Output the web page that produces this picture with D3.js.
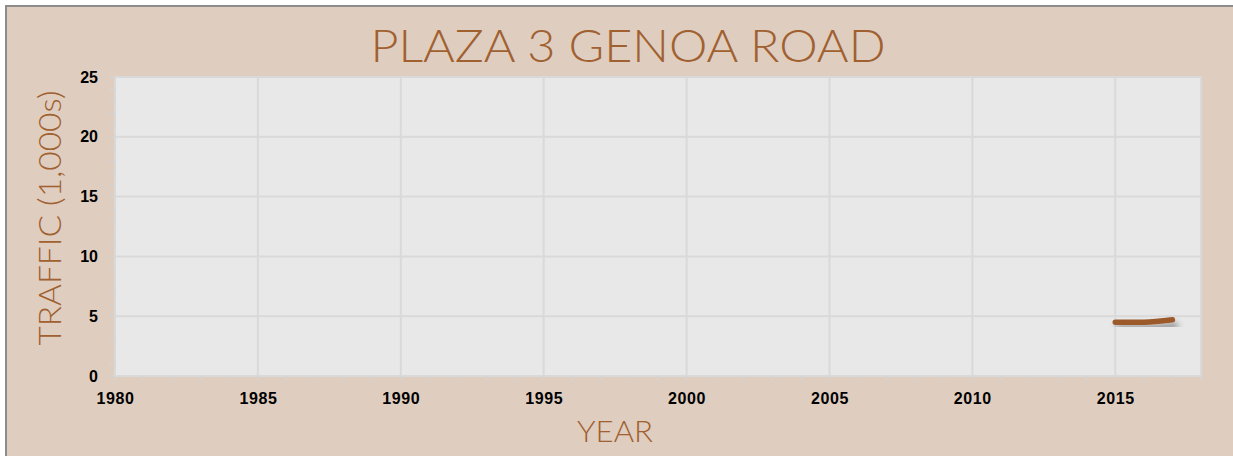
<!DOCTYPE html>
<html><head><meta charset="utf-8">
<script src="https://cdn.jsdelivr.net/npm/d3@7"></script>
<style>
html,body{margin:0;padding:0;background:#fff;}
svg{display:block;}
</style></head>
<body>
<svg id="chart" width="1233" height="456"></svg>
<script>
const years = [2015, 2016, 2017];
const traffic = [4.5, 4.5, 4.7];
const xTickValues = [1980, 1985, 1990, 1995, 2000, 2005, 2010, 2015];
const yTickValues = [0, 5, 10, 15, 20, 25];
const titleText = "PLAZA 3 GENOA ROAD";
const xTitle = "YEAR";
const yTitle = "TRAFFIC (1,000s)";

const W = 1233, H = 456;
const m = {left:115, right:1201, top:77, bottom:376};
const svg = d3.select("#chart");
const brown = "#a0602f";

svg.append("rect").attr("x",6).attr("y",6).attr("width",W).attr("height",H)
  .attr("fill","#dfcdbf").attr("stroke","#8c8c8c").attr("stroke-width",2);

const defs = svg.append("defs");
const f = defs.append("filter").attr("id","sh").attr("x","-20%").attr("y","-200%").attr("width","140%").attr("height","500%");
f.append("feDropShadow").attr("dx",3).attr("dy",6).attr("stdDeviation",3)
  .attr("flood-color","#000").attr("flood-opacity",0.45);

const x = d3.scaleLinear().domain([1980, 2018]).range([m.left, m.right]);
const y = d3.scaleLinear().domain([0, 25]).range([m.bottom, m.top]);

svg.append("rect").attr("x",m.left).attr("y",m.top).attr("width",m.right-m.left).attr("height",m.bottom-m.top)
  .attr("fill","#e8e8e8").attr("stroke","#d9d9d9").attr("stroke-width",2);

// grid
svg.append("g").selectAll("line").data(yTickValues).join("line")
  .attr("x1",m.left).attr("x2",m.right).attr("y1",d=>y(d)).attr("y2",d=>y(d))
  .attr("stroke","#d9d9d9").attr("stroke-width",2);
svg.append("g").selectAll("line").data(xTickValues).join("line")
  .attr("x1",d=>x(d)).attr("x2",d=>x(d)).attr("y1",m.top).attr("y2",m.bottom)
  .attr("stroke","#d9d9d9").attr("stroke-width",2);

// minor ticks
const xMinor = d3.range(1980, 2019, 1);
const yMinor = d3.range(0, 26, 1);
svg.append("g").selectAll("line").data(xMinor).join("line")
  .attr("x1",d=>x(d)).attr("x2",d=>x(d)).attr("y1",m.bottom).attr("y2",m.bottom+4)
  .attr("stroke","#d4d4d4").attr("stroke-width",1.5);
svg.append("g").selectAll("line").data(yMinor).join("line")
  .attr("x1",m.left-5).attr("x2",m.left).attr("y1",d=>y(d)).attr("y2",d=>y(d))
  .attr("stroke","#d4d4d4").attr("stroke-width",1.5);

// axes labels
const xAxis = d3.axisBottom(x).tickValues(xTickValues).tickFormat(d3.format("d")).tickSize(0).tickPadding(17);
const gx = svg.append("g").attr("transform",`translate(0,${m.bottom})`).call(xAxis);
gx.select(".domain").remove();
gx.selectAll("text").attr("font-family","Liberation Sans, Arial, sans-serif").attr("font-weight","bold")
  .attr("font-size",16).attr("fill","#000").attr("letter-spacing","0.6px");

const yAxis = d3.axisLeft(y).tickValues(yTickValues).tickSize(0).tickPadding(17);
const gy = svg.append("g").attr("transform",`translate(${m.left},0)`).call(yAxis);
gy.select(".domain").remove();
gy.selectAll("text").attr("font-family","Liberation Sans, Arial, sans-serif").attr("font-weight","bold")
  .attr("font-size",16).attr("fill","#000");

// line
const line = d3.line().x((d,i)=>x(years[i])).y(d=>y(d)).curve(d3.curveMonotoneX);
svg.append("path").datum(traffic).attr("d",line).attr("fill","none")
  .attr("stroke","#9c5a2b").attr("stroke-width",5.5).attr("stroke-linecap","round")
  .attr("filter","url(#sh)");

// titles
const tf = "Lato, 'Open Sans', sans-serif";
svg.append("text").attr("x",628).attr("y",62).attr("text-anchor","middle")
  .attr("font-family",tf).attr("font-weight",300).attr("font-size",46).attr("fill",brown)
  .attr("textLength",515).attr("lengthAdjust","spacingAndGlyphs").text(titleText);
svg.append("text").attr("x",615).attr("y",442).attr("text-anchor","middle")
  .attr("font-family",tf).attr("font-weight",300).attr("font-size",30).attr("fill",brown)
  .attr("textLength",76).attr("lengthAdjust","spacingAndGlyphs").text(xTitle);
svg.append("text").attr("transform","translate(61,218) rotate(-90)").attr("text-anchor","middle")
  .attr("font-family",tf).attr("font-weight",300).attr("font-size",31).attr("fill",brown)
  .attr("textLength",255).attr("lengthAdjust","spacingAndGlyphs").text(yTitle);
</script>
</body></html>
